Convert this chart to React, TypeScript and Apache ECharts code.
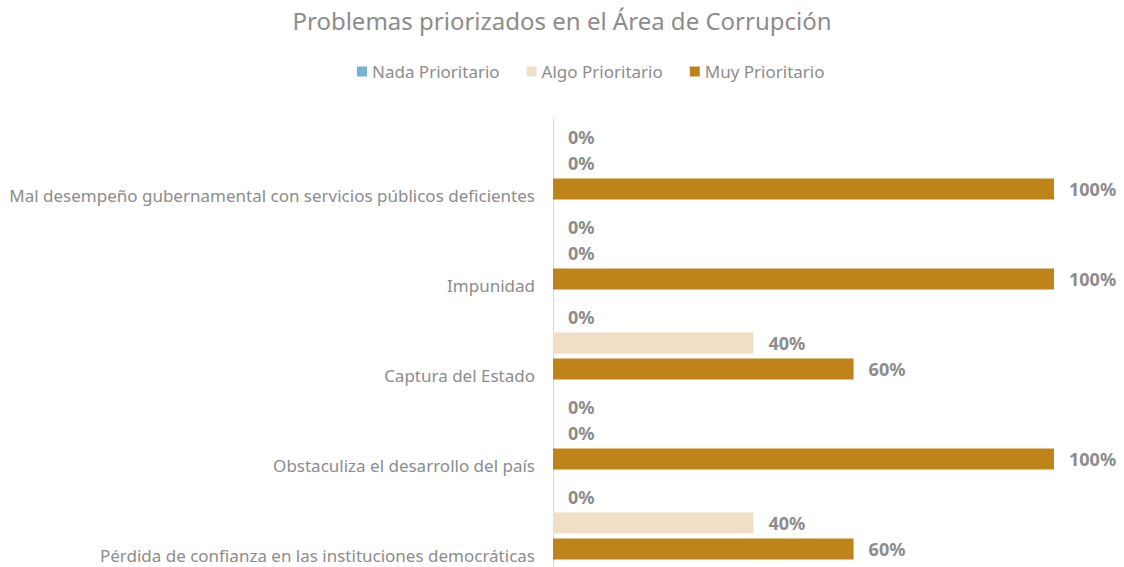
import React, { useEffect, useRef } from "react";
import * as echarts from "echarts";

const categories = [
  "Mal desempeño gubernamental con servicios públicos deficientes",
  "Impunidad",
  "Captura del Estado",
  "Obstaculiza el desarrollo del país",
  "Pérdida de confianza en las instituciones democráticas",
];
const nadaPrioritario = [0, 0, 0, 0, 0];
const algoPrioritario = [0, 0, 40, 0, 40];
const muyPrioritario = [100, 100, 60, 100, 60];
const seriesNames = ["Nada Prioritario", "Algo Prioritario", "Muy Prioritario"];
const colors = ["#74B3D5", "#F0DFC5", "#BF8419"];

const FONT = "Noto Sans";
const GRAY = "#8C8C8C";

export default function App() {
  const ref = useRef<HTMLDivElement>(null);
  useEffect(() => {
    if (!ref.current) return;
    const chart = echarts.init(ref.current, undefined, { renderer: "svg" });
    const mk = (name: string, data: number[], color: string) => ({
      name,
      type: "bar",
      data,
      barWidth: 21,
      barGap: "24%",
      itemStyle: { color },
      label: {
        show: true,
        position: "right",
        distance: 15,
        formatter: "{c}%",
        color: GRAY,
        fontFamily: FONT,
        fontWeight: "bold",
        fontSize: 18,
      },
    });
    chart.setOption({
      animation: false,
      title: {
        text: "Problemas priorizados en el Área de Corrupción",
        left: "center",
        top: 3,
        textStyle: { color: GRAY, fontFamily: FONT, fontWeight: "normal", fontSize: 24 },
      },
      legend: {
        top: 58,
        left: 352,
        icon: "rect",
        itemWidth: 10,
        itemHeight: 10,
        itemGap: 27,
        textStyle: { color: GRAY, fontFamily: FONT, fontSize: 17 },
        data: seriesNames,
      },
      grid: {
        left: 553,
        top: 118,
        right: 70,
        bottom: -1,
        containLabel: false,
        outerBoundsMode: "none",
      },
      xAxis: {
        type: "value",
        min: 0,
        max: 100,
        show: false,
      },
      yAxis: {
        type: "category",
        data: categories,
        inverse: true,
        axisLine: { show: true, lineStyle: { color: "#D9D9D9", width: 1 } },
        axisTick: { show: false },
        axisLabel: {
          color: GRAY,
          fontFamily: FONT,
          fontSize: 17,
          margin: 18,
          verticalAlign: "top",
          lineHeight: 64,
        },
      },
      series: [
        mk(seriesNames[0], nadaPrioritario, colors[0]),
        mk(seriesNames[1], algoPrioritario, colors[1]),
        mk(seriesNames[2], muyPrioritario, colors[2]),
      ],
    });
    return () => chart.dispose();
  }, []);
  return (
    <div
      ref={ref}
      style={{ position: "fixed", left: 0, top: 0, width: 1124, height: 567, background: "#fff" }}
    />
  );
}
